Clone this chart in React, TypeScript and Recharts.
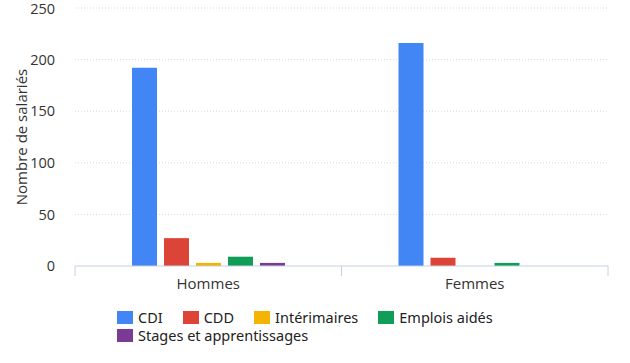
import { BarChart, Bar, XAxis, YAxis, CartesianGrid } from 'recharts'

const categories = ['Hommes', 'Femmes']
const cdi = [192, 216]
const cdd = [27, 8]
const interimaires = [3, 0]
const emploisAides = [9, 3]
const stages = [3, 0]

const series = [
  { key: 'cdi', name: 'CDI', color: '#4285f4', values: cdi },
  { key: 'cdd', name: 'CDD', color: '#db4437', values: cdd },
  { key: 'interim', name: 'Intérimaires', color: '#f4b400', values: interimaires },
  { key: 'aides', name: 'Emplois aidés', color: '#0f9d58', values: emploisAides },
  { key: 'stages', name: 'Stages et apprentissages', color: '#7b3a96', values: stages },
]

const yTicks = [0, 50, 100, 150, 200, 250]

const data = categories.map((c, i) => {
  const row: any = { name: c }
  series.forEach((s) => { row[s.key] = s.values[i] })
  return row
})

const axisFont = '"Open Sans", sans-serif'
const axisColor = '#c3d1e2'

function XTick({ x, y, payload, index }: any) {
  const half = payload.offset || 0
  const last = index === categories.length - 1
  return (
    <g>
      <line x1={x - half} x2={x - half} y1={y - 8} y2={y + 2} stroke={axisColor} />
      {last && <line x1={x + half} x2={x + half} y1={y - 8} y2={y + 2} stroke={axisColor} />}
      <text x={x} y={y + 15} textAnchor="middle" fill="#333" fontSize={15} fontFamily={axisFont}>
        {payload.value}
      </text>
    </g>
  )
}

function YLabel({ viewBox }: any) {
  const cy = viewBox.y + viewBox.height / 2
  const cx = 21
  return (
    <text x={cx} y={cy} transform={`rotate(-90 ${cx} ${cy})`} textAnchor="middle"
      dominantBaseline="central" fill="#333" fontSize={15} fontFamily={axisFont}>
      Nombre de salariés
    </text>
  )
}

function LegendBox() {
  return (
    <div style={{ position: 'absolute', left: 117, top: 308, width: 420, display: 'flex',
      flexWrap: 'wrap', fontFamily: '"Noto Sans", sans-serif', fontSize: 14.5, lineHeight: '18px',
      color: '#222' }}>
      {series.map((s) => (
        <div key={s.key} style={{ display: 'flex', alignItems: 'center', marginRight: 20, height: 18 }}>
          <span style={{ width: 16, height: 13, background: s.color, marginRight: 5, display: 'inline-block' }} />
          <span>{s.name}</span>
        </div>
      ))}
    </div>
  )
}

export default function App() {
  return (
    <div style={{ position: 'absolute', left: 0, top: 0, width: 630, height: 363, background: '#fff' }}>
      <BarChart width={630} height={363} data={data}
        margin={{ top: 8, right: 22, left: 0, bottom: 0 }}
        barSize={25} barGap={7} barCategoryGap="21%">
        <CartesianGrid vertical={false} stroke="#d9d9d9" strokeDasharray="1 2"
          horizontalValues={[50, 100, 150, 200, 250]} />
        <XAxis dataKey="name" height={97} axisLine={{ stroke: axisColor }} tickLine={false}
          tick={<XTick />} interval={0} />
        <YAxis width={75} domain={[0, 250]} ticks={yTicks} axisLine={false} tickLine={false}
          tick={{ fill: '#333', fontSize: 14.5, fontFamily: axisFont }} tickMargin={14}
          label={<YLabel />} />
        {series.map((s) => (
          <Bar key={s.key} dataKey={s.key} name={s.name} fill={s.color} isAnimationActive={false} />
        ))}
      </BarChart>
      <LegendBox />
    </div>
  )
}
